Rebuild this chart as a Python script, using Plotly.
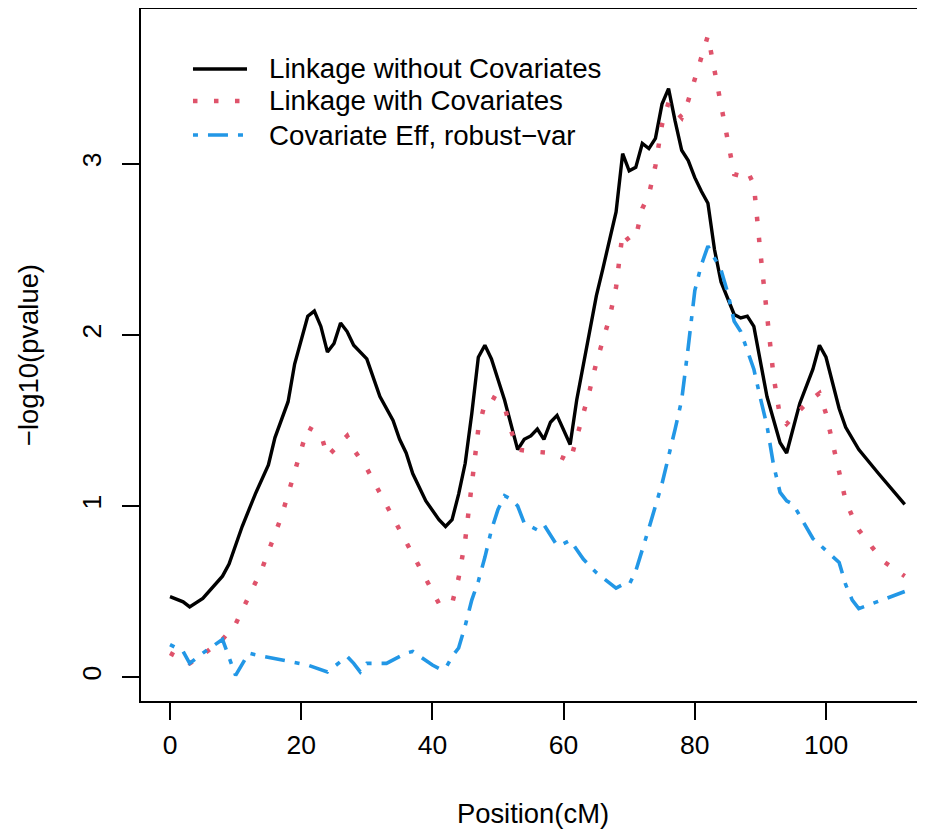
import plotly.graph_objects as go

# ---- data ----
black_x = [0,2,3,5,8,9,11,12,13,15,16,18,19,21,22,23,24,25,26,27,28,30,32,34,35,36,37,39,41,42,
           43,44,45,46,47,48,49,50,51,53,54,55,56,57,58,59,60,61,62,63,65,66,67,68,69,70,71,72,73,74,
           75,76,77,78,79,80,81,82,83,84,86,87,88,89,91,93,94,96,98,99,100,102,103,105,108,112]
black_y = [0.47,0.44,0.41,0.46,0.59,0.66,0.88,0.98,1.07,1.24,1.40,1.61,1.83,2.11,2.14,2.05,1.90,1.95,2.07,2.02,
           1.94,1.86,1.64,1.50,1.39,1.31,1.19,1.03,0.92,0.88,0.92,1.07,1.25,1.54,1.87,1.94,1.86,1.74,1.62,1.33,
           1.39,1.41,1.45,1.39,1.49,1.53,1.45,1.36,1.62,1.83,2.23,2.39,2.55,2.72,3.06,2.96,2.98,3.12,3.09,3.15,
           3.35,3.44,3.25,3.08,3.02,2.92,2.84,2.77,2.50,2.31,2.12,2.10,2.11,2.05,1.64,1.37,1.31,1.60,1.80,1.94,
           1.87,1.57,1.46,1.33,1.19,1.01]

red_x = [0,3,5,8,10,14,17,21,23,24,27,28,30,41,43,44,45,46,47,48,49,50,51,52,53,55,58,60,61,62,63,64,65,66,67,
         68,69,70,71,72,73,74,75,76,78,79,80,81,82,86,87,88,89,90,91,92,93,94,97,99,100,103,104,105,107,109,112]
red_y = [0.14,0.08,0.13,0.22,0.31,0.63,0.94,1.46,1.42,1.29,1.41,1.33,1.22,0.43,0.43,0.58,0.80,1.14,1.45,1.60,1.64,
         1.62,1.58,1.44,1.33,1.32,1.31,1.28,1.26,1.40,1.53,1.68,1.84,1.96,2.10,2.28,2.60,2.55,2.57,2.74,2.82,2.99,
         3.23,3.36,3.27,3.37,3.50,3.62,3.75,2.94,2.93,2.96,2.88,2.48,2.10,1.76,1.52,1.48,1.60,1.66,1.54,1.03,0.94,
         0.86,0.76,0.67,0.59]

blue_x = [0,2,3,5,8,10,12,13,21,24,25,27,28,29,30,33,36,37,40,41,42,43,44,45,46,47,48,49,50,51,
          52,53,54,56,57,59,60,61,63,65,68,69,70,71,73,75,77,78,79,80,81,82,83,84,85,86,87,89,90,91,
          92,93,94,95,98,101,102,103,104,105,112]
blue_y = [0.19,0.15,0.08,0.14,0.22,0.01,0.14,0.13,0.07,0.03,0.06,0.12,0.08,0.03,0.08,0.08,0.14,0.15,0.07,0.05,
          0.05,0.12,0.17,0.30,0.45,0.56,0.70,0.86,0.98,1.06,1.04,1.00,0.90,0.86,0.89,0.77,0.78,0.80,0.69,0.61,
          0.52,0.54,0.54,0.62,0.87,1.13,1.45,1.62,1.93,2.26,2.41,2.52,2.45,2.38,2.25,2.08,2.02,1.80,1.63,1.47,
          1.24,1.08,1.03,1.01,0.81,0.71,0.67,0.54,0.45,0.40,0.50]

series_names = ["Linkage without Covariates", "Linkage with Covariates", "Covariate Eff, robust\u2212var"]
x_ticks = [0, 20, 40, 60, 80, 100]
y_ticks = [0, 1, 2, 3]

# ---- styles ----
BLACK = "#000000"
RED = "#DF536B"
BLUE = "#2297E6"
FONT = "Liberation Sans, Arial, Helvetica, sans-serif"
FS_TICK = 26.5
FS_TITLE = 27.4
FS_LEG = 27.7
RED_DASH = "4.5px,16.5px"
BLUE_DASH = "5px,10px,20px,10px"

fig = go.Figure()
fig.add_trace(go.Scatter(x=black_x, y=black_y, mode="lines", name=series_names[0],
                         line=dict(color=BLACK, width=3.4), showlegend=False))
fig.add_trace(go.Scatter(x=red_x, y=red_y, mode="lines", name=series_names[1],
                         line=dict(color=RED, width=4.5, dash=RED_DASH), showlegend=False))
fig.add_trace(go.Scatter(x=blue_x, y=blue_y, mode="lines", name=series_names[2],
                         line=dict(color=BLUE, width=3.6, dash=BLUE_DASH), showlegend=False))

# manual legend (R-style, no box)
leg_rows = [0.9133, 0.8671, 0.8179]
leg_styles = [dict(color=BLACK, width=3.4), dict(color=RED, width=4.5, dash=RED_DASH),
              dict(color=BLUE, width=3.6, dash=BLUE_DASH)]
for name, yy, st in zip(series_names, leg_rows, leg_styles):
    fig.add_shape(type="line", xref="paper", yref="paper", x0=0.0663, x1=0.1352, y0=yy, y1=yy, line=st)
    fig.add_annotation(xref="paper", yref="paper", x=0.1607, y=yy, text=name, showarrow=False,
                       xanchor="left", yanchor="middle", font=dict(family=FONT, size=FS_LEG, color=BLACK))

fig.update_layout(
    width=917, height=821,
    margin=dict(l=133, r=0, t=1, b=128, autoexpand=False),
    paper_bgcolor="white", plot_bgcolor="white",
    font=dict(family=FONT, size=FS_TICK, color=BLACK),
    xaxis=dict(range=[-4.42, 115.09], tickvals=x_ticks, showgrid=False, zeroline=False,
               showline=True, linecolor=BLACK, linewidth=1.7, mirror=True,
               ticks="outside", ticklen=17, tickwidth=1.7, tickcolor=BLACK,
               tickfont=dict(family=FONT, size=FS_TICK, color=BLACK), ticklabelstandoff=2,
               title=dict(text="Position(cM)", font=dict(family=FONT, size=FS_TITLE, color=BLACK), standoff=51)),
    yaxis=dict(range=[-0.14, 3.906], tickvals=y_ticks, showgrid=False, zeroline=False,
               showline=True, linecolor=BLACK, linewidth=1.7,
               ticks="outside", ticklen=17, tickwidth=1.7, tickcolor=BLACK, tickangle=-90,
               tickfont=dict(family=FONT, size=FS_TICK, color=BLACK), ticklabelstandoff=11,
               title=dict(text="\u2212log10(pvalue)", font=dict(family=FONT, size=FS_TITLE, color=BLACK), standoff=30)),
)

fig.write_html("out.html")
